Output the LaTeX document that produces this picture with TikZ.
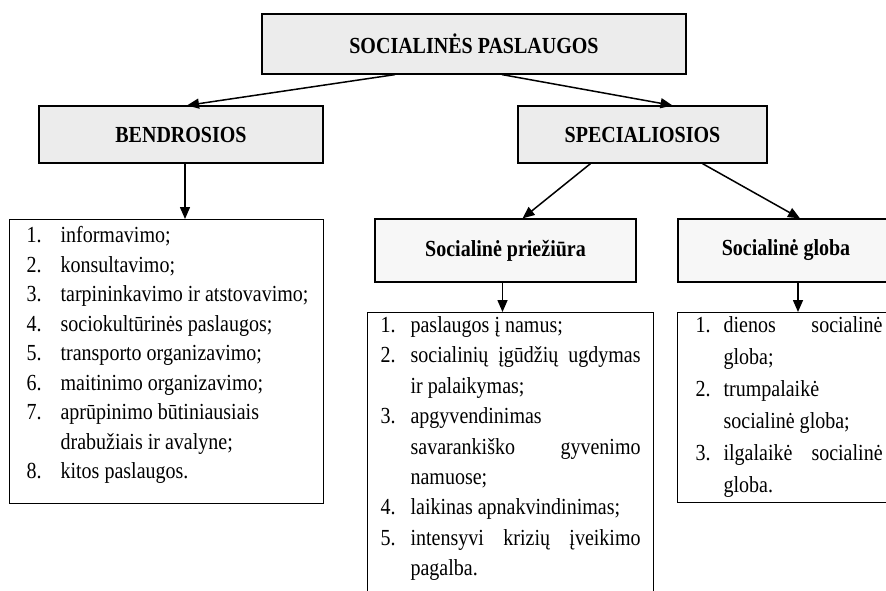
\documentclass[tikz,border=0pt]{standalone}
\usepackage{fontspec}
\setmainfont{Liberation Serif}[FakeStretch=0.87]
\usetikzlibrary{arrows.meta,positioning}

% one numbered line of a list, with a hanging indent
\newlength{\punktind}
\newcommand{\punktas}[2]{\par\noindent\hangindent=\punktind\hangafter=1\makebox[\punktind][l]{#1.}#2}

\begin{document}
\begin{tikzpicture}[x=1pt,y=-1pt,>={Triangle[length=12pt,width=10pt]},
    main/.style={draw,line width=1.2pt,fill=gray!15,inner sep=0pt,font=\fontsize{23}{26}\selectfont\bfseries},
    sub/.style={draw,line width=1.2pt,fill=gray!6,inner sep=0pt,font=\fontsize{23}{26}\selectfont\bfseries},
    listbox/.style={draw,line width=1.2pt,fill=white,inner ysep=0pt,anchor=north west},
    arrow/.style={->,line width=1.5pt}]
    \useasboundingbox (0,0) rectangle (886,590);

    % top level
    \node[main,minimum width=424,minimum height=60] (paslaugos) at (474,44) {SOCIALINĖS PASLAUGOS};

    % two kinds of services
    \node[main,minimum width=284,minimum height=57] (bendrosios) at (181,134.5) {BENDROSIOS};
    \node[main,minimum width=249,minimum height=57] (specialiosios) at (642.5,134.5) {SPECIALIOSIOS};

    % special services split in two
    \node[sub,minimum width=261,minimum height=63] (prieziura) at (505.5,250.5) {Socialinė priežiūra};
    \node[sub,minimum width=216,minimum height=63] (globa) at (786,250.5) {Socialinė globa};

    % lists
    \node[listbox,inner xsep=5pt] (bendrsarasas) at (9,219) {\parbox[c][284pt][t]{304pt}{%
        \fontsize{23}{29.5}\selectfont\raggedright\leftskip=12pt\setlength{\punktind}{34pt}%
        \hyphenpenalty=10000\vspace*{7pt}%
        \punktas{1}{informavimo;}
        \punktas{2}{konsultavimo;}
        \punktas{3}{tarpininkavimo ir atstovavimo;}
        \punktas{4}{sociokultūrinės paslaugos;}
        \punktas{5}{transporto organizavimo;}
        \punktas{6}{maitinimo organizavimo;}
        \punktas{7}{aprūpinimo būtiniausiais drabužiais ir avalyne;}
        \punktas{8}{kitos paslaugos.}}};
    \node[listbox,inner xsep=13pt] (priezsarasas) at (367,312) {\parbox[c][300pt][t]{260pt}{%
        \fontsize{23}{30.4}\selectfont\setlength{\punktind}{30pt}%
        \tolerance=10000\hyphenpenalty=10000\vspace*{4pt}%
        \punktas{1}{paslaugos į namus;}
        \punktas{2}{socialinių įgūdžių ugdymas ir palaikymas;}
        \punktas{3}{apgyvendinimas savarankiško gyvenimo namuose;}
        \punktas{4}{laikinas apnakvindinimas;}
        \punktas{5}{intensyvi krizių įveikimo pagalba.}}};
    \node[listbox,inner xsep=10pt] (globasarasas) at (677,312) {\parbox[c][190pt][t]{195pt}{%
        \fontsize{23}{32}\selectfont\leftskip=8pt\setlength{\punktind}{28pt}%
        \tolerance=10000\hyphenpenalty=10000\vspace*{4pt}%
        \punktas{1}{dienos socialinė globa;}
        \punktas{2}{trumpalaikė socialinė globa;}
        \punktas{3}{ilgalaikė socialinė globa.}}};

    % connectors
    \draw[arrow] ([xshift=-79]paslaugos.south) -- ([xshift=6]bendrosios.north);
    \draw[arrow] ([xshift=28]paslaugos.south) -- ([xshift=30]specialiosios.north);
    \draw[arrow] ([xshift=4]bendrosios.south) -- ([xshift=4]bendrosios.south |- bendrsarasas.north);
    \draw[arrow] ([xshift=-52]specialiosios.south) -- ([xshift=17]prieziura.north);
    \draw[arrow] ([xshift=60]specialiosios.south) -- ([xshift=14]globa.north);
    \draw[arrow] ([xshift=-3]prieziura.south) -- ([xshift=-3]prieziura.south |- priezsarasas.north);
    \draw[arrow] ([xshift=12]globa.south) -- ([xshift=12]globa.south |- globasarasas.north);
\end{tikzpicture}
\end{document}
